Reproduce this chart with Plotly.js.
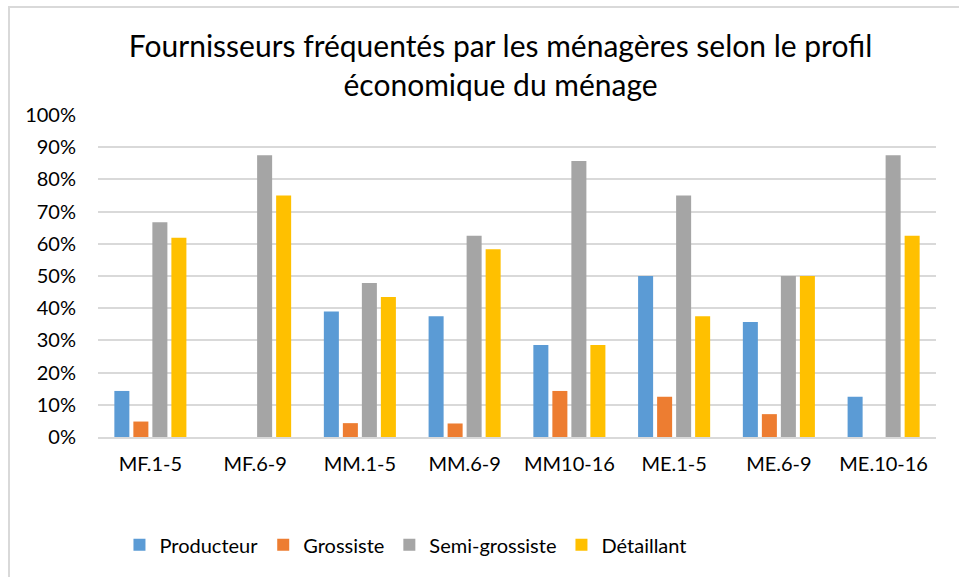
<!DOCTYPE html>
<html>
<head>
<meta charset="utf-8">
<script src="https://cdn.plot.ly/plotly-3.0.1.min.js"></script>
<style>
html,body{margin:0;padding:0;background:#fff;}
#wrap{position:relative;width:959px;height:577px;overflow:hidden;}
#chart{width:959px;height:577px;}
#frame{position:absolute;left:8px;top:6px;width:1000px;height:1000px;border:2px solid #d9d9d9;pointer-events:none;}
</style>
</head>
<body>
<div id="wrap"><div id="chart"></div><div id="frame"></div></div>
<script>
const categories = ["MF.1-5","MF.6-9","MM.1-5","MM.6-9","MM10-16","ME.1-5","ME.6-9","ME.10-16"];
const producteur = [0.143, 0, 0.39, 0.375, 0.286, 0.50, 0.357, 0.125];
const grossiste = [0.048, 0, 0.043, 0.042, 0.143, 0.125, 0.071, 0];
const semiGrossiste = [0.667, 0.875, 0.478, 0.625, 0.857, 0.75, 0.50, 0.875];
const detaillant = [0.619, 0.75, 0.435, 0.583, 0.286, 0.375, 0.50, 0.625];
const seriesNames = ["Producteur","Grossiste","Semi-grossiste","Détaillant"];
const colors = ["#5B9BD5","#ED7D31","#A5A5A5","#FFC000"];
const allValues = [producteur, grossiste, semiGrossiste, detaillant];

const font = "Lato, 'Open Sans', sans-serif";
const traces = allValues.map((v,i)=>({
  type:"bar", x:categories, y:v, name:seriesNames[i],
  marker:{color:colors[i]}, hoverinfo:"x+y+name"
}));

const layout = {
  width:959, height:577,
  margin:{l:98, r:23, t:115, b:140},
  paper_bgcolor:"#fff", plot_bgcolor:"#fff",
  title:{text:"Fournisseurs fréquentés par les ménagères selon le profil<br>économique du ménage",
    font:{family:font, size:30, color:"#000"}, x:0.522, xanchor:"center", y:0.901, yanchor:"middle"},
  barmode:"group", bargap:0.274, bargroupgap:0.21,
  xaxis:{type:"category", tickfont:{family:font, size:20, color:"#000"}, showline:true,
    linecolor:"#d9d9d9", linewidth:2, ticks:"", showgrid:false, ticklabelstandoff:8},
  yaxis:{range:[0,1.0], dtick:0.1, tickformat:".0%", tickfont:{family:font, size:20, color:"#000"},
    gridcolor:"#d9d9d9", gridwidth:2, zeroline:false, showline:false, ticks:"", ticklabelstandoff:21},
  legend:{orientation:"h", x:0.3675, xanchor:"center", y:-0.335, yanchor:"middle",
    font:{family:font, size:20, color:"#000"}, itemwidth:30, traceorder:"normal"},
  showlegend:true
};
Plotly.newPlot("chart", traces, layout, {displayModeBar:false, staticPlot:true});
</script>
</body>
</html>
